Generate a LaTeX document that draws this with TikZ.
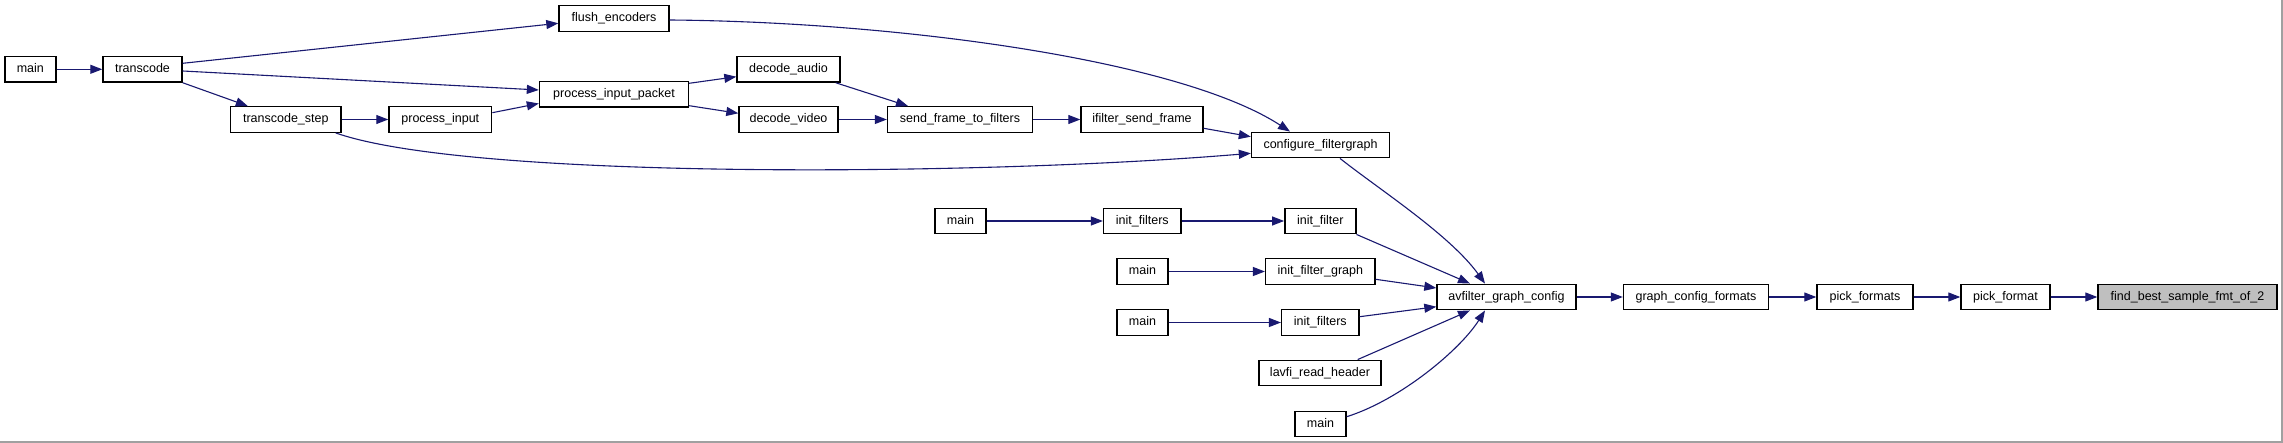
\documentclass[tikz,border=0pt]{standalone}
\usepackage{fontspec}
\setmainfont{Liberation Sans}
\usetikzlibrary{arrows.meta}
\definecolor{dxblue}{RGB}{25,25,112}
\definecolor{dxgray}{RGB}{191,191,191}
\definecolor{dxframe}{RGB}{160,160,160}

\begin{document}
\begin{tikzpicture}[x=1pt,y=-1pt,
    fn/.style={draw=black,line width=1.4pt,fill=white,minimum height=25.5pt,inner sep=0pt,
      font=\fontsize{12.5}{14}\selectfont,text height=9pt,text depth=2.5pt},
    hit/.style={fn,fill=dxgray},
    call/.style={-{Triangle[length=12pt,width=9pt]},dxblue,line width=1.1pt}]
    \useasboundingbox (0,0) rectangle (2283,443);
    \fill[white] (0,0) rectangle (2283,443);
    \draw[dxframe,line width=1.5pt] (0,442.2) -- (2282.2,442.2) -- (2282.2,0);
    % callers of transcode
    \node[fn,minimum width=51] (m0) at (30.3,69.3) {main};
    \node[fn,minimum width=79] (tr) at (142.5,69.3) {transcode};
    \node[fn,minimum width=110] (fe) at (614,18.5) {flush\_encoders};
    \node[fn,minimum width=149] (pip) at (614,94.3) {process\_input\_packet};
    \node[fn,minimum width=110.5] (ts) at (285.8,119.5) {transcode\_step};
    \node[fn,minimum width=102.7] (pin) at (440.3,119.5) {process\_input};
    \node[fn,minimum width=103] (da) at (788.5,69.3) {decode\_audio};
    \node[fn,minimum width=99] (dv) at (788.5,119.5) {decode\_video};
    \node[fn,minimum width=145] (sf) at (960,119.5) {send\_frame\_to\_filters};
    \node[fn,minimum width=122] (isf) at (1142,119.5) {ifilter\_send\_frame};
    \node[fn,minimum width=138] (cfg) at (1320.5,145) {configure\_filtergraph};
    % other callers
    \node[fn,minimum width=51] (ma) at (960.5,221) {main};
    \node[fn,minimum width=77.4] (ifa) at (1142.3,221) {init\_filters};
    \node[fn,minimum width=71] (ifl) at (1320.3,221) {init\_filter};
    \node[fn,minimum width=51] (mb) at (1142.5,271.5) {main};
    \node[fn,minimum width=109.4] (ifg) at (1320.3,271.5) {init\_filter\_graph};
    \node[fn,minimum width=51] (mc) at (1142.5,322.5) {main};
    \node[fn,minimum width=77.3] (ifb) at (1320.3,322.5) {init\_filters};
    \node[fn,minimum width=122] (lrh) at (1320,373) {lavfi\_read\_header};
    \node[fn,minimum width=51] (md) at (1320.5,424) {main};
    % main chain
    \node[fn,minimum width=139] (agc) at (1506.5,297) {avfilter\_graph\_config};
    \node[fn,minimum width=145] (gcf) at (1696,297) {graph\_config\_formats};
    \node[fn,minimum width=96] (pfs) at (1865,297) {pick\_formats};
    \node[fn,minimum width=89] (pf) at (2005.5,297) {pick\_format};
    \node[hit,minimum width=179] (fbs) at (2187.5,297) {find\_best\_sample\_fmt\_of\_2};
    % edges
    \draw[call] (m0.east) -- (tr.west);
    \draw[call] ([yshift=6]tr.east) -- ([yshift=-4.8]fe.west);
    \draw[call] ([yshift=-1.7]tr.east) -- ([yshift=4.3]pip.west);
    \draw[call] (tr.south east) -- ([xshift=-38]ts.north);
    \draw[call] (ts.east) -- (pin.west);
    \draw[call] ([yshift=6.8]pin.east) -- ([yshift=-9.2]pip.west);
    \draw[call] ([yshift=11]pip.east) -- ([yshift=-7.4]da.west);
    \draw[call] ([yshift=-11.4]pip.east) -- ([yshift=6.2]dv.west);
    \draw[call] ([xshift=-5]da.south east) -- ([xshift=-52]sf.north);
    \draw[call] (dv.east) -- (sf.west);
    \draw[call] (sf.east) -- (isf.west);
    \draw[call] ([yshift=-8.8]isf.east) -- ([yshift=8.3]cfg.west);
    \draw[call] ([yshift=-1.5]fe.east) .. controls (900,22) and (1180,60) .. ([xshift=-30.5]cfg.north);
    \draw[call] ([xshift=-6]ts.south east) .. controls (470,180) and (980,176) .. ([yshift=-8.3]cfg.west);
    \draw[call] ([xshift=19.5]cfg.south) .. controls (1380,190) and (1450,235) .. ([xshift=-21.5]agc.north);
    \draw[call] (ma.east) -- (ifa.west);
    \draw[call] (ifa.east) -- (ifl.west);
    \draw[call] (ifl.south east) -- ([xshift=-36.5]agc.north);
    \draw[call] (mb.east) -- (ifg.west);
    \draw[call] ([yshift=-7.8]ifg.east) -- ([yshift=9]agc.west);
    \draw[call] (mc.east) -- (ifb.west);
    \draw[call] ([yshift=5.8]ifb.east) -- ([yshift=-9.7]agc.west);
    \draw[call] ([xshift=37.7]lrh.north) -- ([xshift=-36.5]agc.south);
    \draw[call] ([yshift=7.3]md.east) .. controls (1400,400) and (1460,350) .. ([xshift=-21.5]agc.south);
    \draw[call] (agc.east) -- (gcf.west);
    \draw[call] (gcf.east) -- (pfs.west);
    \draw[call] (pfs.east) -- (pf.west);
    \draw[call] (pf.east) -- (fbs.west);
\end{tikzpicture}
\end{document}
